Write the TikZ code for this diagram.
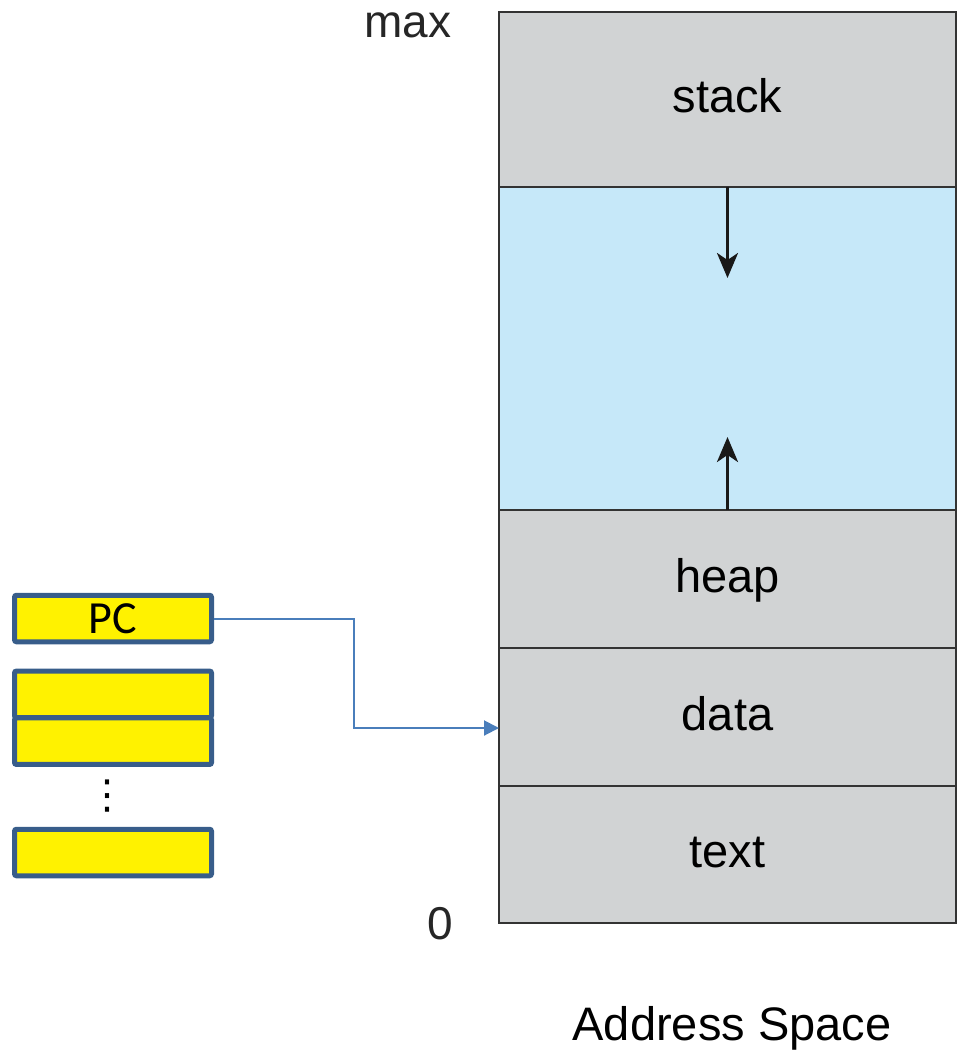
\documentclass[tikz,border=0pt]{standalone}
\usepackage{fontspec}
\setmainfont{Liberation Sans}
\newfontfamily\pcfont{Carlito}
\newfontfamily\dotsfont{DejaVu Sans}
\usetikzlibrary{positioning,arrows.meta}

\definecolor{memgray}{RGB}{209,211,212}
\definecolor{memblue}{RGB}{198,232,249}
\definecolor{memline}{RGB}{51,51,51}
\definecolor{regline}{RGB}{56,93,138}
\definecolor{linkblue}{RGB}{74,126,187}

\begin{document}
\begin{tikzpicture}[
    x=1pt, y=-1pt,
    segment/.style={rectangle, draw=memline, line width=2pt, outer sep=0pt,
        minimum width=457pt, anchor=north, font=\fontsize{47}{56}\selectfont,
        text height=30pt, text depth=4pt},
    register/.style={rectangle, draw=regline, fill=yellow, line width=5pt,
        rounded corners=2pt, minimum width=197pt, minimum height=46.5pt,
        inner sep=0pt, font=\pcfont\fontsize{46}{52}\selectfont},
    growth/.style={line width=3pt, draw=black!90,
        -{Stealth[length=25pt, width=21pt, inset=7pt]}},
    pclink/.style={line width=2pt, draw=linkblue,
        -{Triangle[length=15pt, width=15pt]}},
    bound/.style={font=\fontsize{46}{54}\selectfont, anchor=base, text=black!85}
]
    \useasboundingbox (0,0) rectangle (961,1053);

    \node[segment, fill=memgray, minimum height=175pt] (stack) at (727.5,11.7) {stack};
    \node[segment, fill=memblue, minimum height=323.3pt, below=0pt of stack] (gap) {};
    \node[segment, fill=memgray, minimum height=138pt, below=0pt of gap] (heap) {heap};
    \node[segment, fill=memgray, minimum height=138pt, below=0pt of heap] (data) {data};
    \node[segment, fill=memgray, minimum height=136.7pt, below=0pt of data] (text) {text};

    \coordinate (downtip) at (727.5,278);
    \coordinate (uptip) at (727.5,437);
    \draw[growth] (gap.north) -- (downtip);
    \draw[growth] (gap.south) -- (uptip);

    \node[bound] (max) at (408,37) {max};
    \node[bound] (zero) at (440.7,939) {0};
    \node[font=\fontsize{47}{56}\selectfont, anchor=base] (title) at (732,1040) {Address Space};

    \node[register] (pc) at (113,618.5) {PC};
    \node[register] (reg1) at (113,694.3) {};
    \node[register] (reg2) at (113,741.2) {};
    \node[register] (reg3) at (113,852.5) {};
    \node[font=\dotsfont\fontsize{40}{48}\selectfont, inner sep=0pt]
        (dots) at (107,796) {⋮};

    \coordinate (bend) at (354,728);
    \draw[pclink] (pc.east) -| (bend) -- (bend -| data.west);
\end{tikzpicture}
\end{document}
